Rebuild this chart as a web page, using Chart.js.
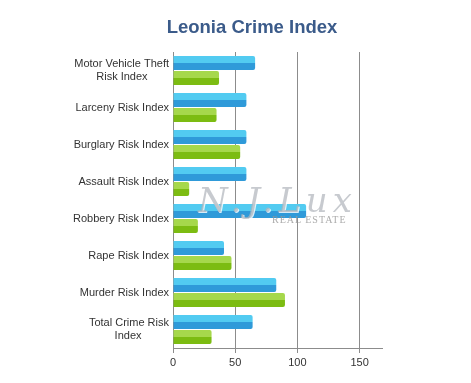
<!DOCTYPE html>
<html>
<head>
<meta charset="utf-8">
<script src="https://cdn.jsdelivr.net/npm/chart.js@4.4.1/dist/chart.umd.min.js"></script>
<style>
  html, body { margin: 0; padding: 0; background: #fff; }
  #wrap { position: relative; width: 471px; height: 383px; }
  #title {
    position: absolute; left: 0; width: 504px; top: 16px; text-align: center;
    font: bold 18.5px "Liberation Sans", Arial, sans-serif; color: #3b5b8a;
  }
  #mark1 {
    position: absolute; left: 198px; top: 180px;
    font: italic 34px "DejaVu Serif", serif; color: rgba(175,180,186,0.7);
    letter-spacing: 5px; text-shadow: 1px 1px 0 rgba(255,255,255,0.8);
  }
  #mark2 {
    position: absolute; left: 272px; top: 214px;
    font: 10px "Liberation Serif", serif; color: rgba(150,150,150,0.8); letter-spacing: 1px;
  }
</style>
</head>
<body>
<div id="wrap">
  <canvas id="chart" width="471" height="383"></canvas>
  <div id="title">Leonia Crime Index</div>
  <div id="mark1">N.J.Lux</div>
  <div id="mark2">REAL ESTATE</div>
</div>
<script>
// categories, top to bottom (second lines padded so they sit centred)
const categories = [
  ["Motor Vehicle Theft", "Risk Index       "],
  "Larceny Risk Index",
  "Burglary Risk Index",
  "Assault Risk Index",
  "Robbery Risk Index",
  "Rape Risk Index",
  "Murder Risk Index",
  ["Total Crime Risk", "Index         "]
];
const blueValues = [66, 59, 59, 59, 107, 41, 83, 64];
const greenValues = [37, 35, 54, 13, 20, 47, 90, 31];
const xTicks = [0, 50, 100, 150];

const CAT_PCT = 0.82;
const BAR_PCT = 0.92;

// vertical two-tone gradient for each bar, from the y scale layout
function barFill(top, bottom, dsIndex) {
  return (context) => {
    const chart = context.chart;
    const yScale = chart.scales.y;
    if (!yScale || context.dataIndex === undefined) return bottom;
    const center = yScale.getPixelForValue(context.dataIndex);
    const band = (yScale.bottom - yScale.top) / categories.length * CAT_PCT;
    const slot = band / 2;
    const mid = center - band / 2 + slot * dsIndex + slot / 2;
    const half = slot * BAR_PCT / 2;
    if (!isFinite(mid) || !isFinite(half) || half <= 0) return bottom;
    const g = chart.ctx.createLinearGradient(0, mid - half, 0, mid + half);
    g.addColorStop(0, top);
    g.addColorStop(0.5, top);
    g.addColorStop(0.5, bottom);
    g.addColorStop(1, bottom);
    return g;
  };
}

new Chart(document.getElementById("chart"), {
  type: "bar",
  data: {
    labels: categories,
    datasets: [
      {
        label: "Leonia",
        data: blueValues,
        backgroundColor: barFill("#52cbf1", "#2f9ad9", 0),
        borderRadius: 2,
        categoryPercentage: CAT_PCT,
        barPercentage: BAR_PCT
      },
      {
        label: "National",
        data: greenValues,
        backgroundColor: barFill("#a6d84c", "#7cbc12", 1),
        borderRadius: 2,
        categoryPercentage: CAT_PCT,
        barPercentage: BAR_PCT
      }
    ]
  },
  options: {
    indexAxis: "y",
    responsive: false,
    animation: false,
    layout: { padding: { top: 52, right: 89, bottom: 0, left: 0 } },
    plugins: {
      legend: { display: false },
      title: { display: false },
      tooltip: { enabled: false }
    },
    scales: {
      x: {
        min: 0,
        max: 168,
        afterFit: (scale) => { scale.height = 35; },
        afterBuildTicks: (scale) => { scale.ticks = xTicks.map((v) => ({ value: v })); },
        grid: {
          color: (c) => (c.tick && c.tick.value === 0 ? "rgba(0,0,0,0)" : "#8c8c8c"),
          tickColor: "#8c8c8c",
          tickLength: 5
        },
        border: { color: "#8c8c8c" },
        ticks: {
          color: "#333",
          font: { family: "Liberation Sans", size: 11 },
          padding: 3
        }
      },
      y: {
        afterFit: (scale) => { scale.width = 173; },
        grid: { display: false, drawTicks: false },
        border: { color: "#8c8c8c" },
        ticks: {
          color: "#333",
          font: { family: "Liberation Sans", size: 11 },
          padding: 4
        }
      }
    }
  }
});
</script>
</body>
</html>
